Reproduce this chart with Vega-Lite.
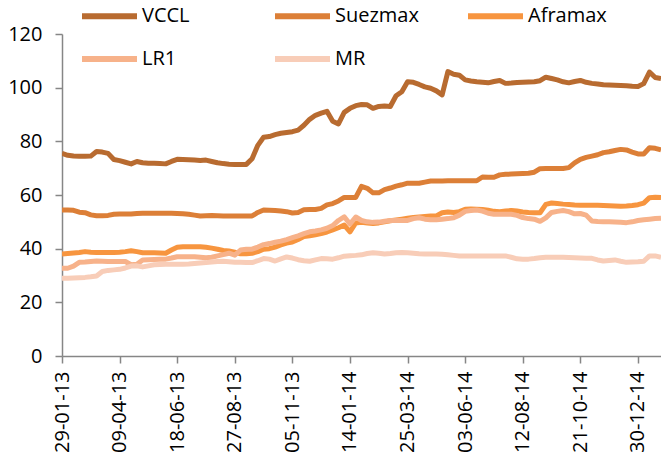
{
"$schema": "https://vega.github.io/schema/vega-lite/v6.json",
"width": 599, "height": 322,
"autosize": {"type": "none"},
"padding": {"left": 62, "top": 34, "right": 0, "bottom": 99},
"background": "white",
"config": {"view": {"stroke": null}, "font": "Open Sans"},
"data": {"values": [
{"date":"2013-01-29","VCCL":75.5,"Suezmax":54.4,"Aframax":38,"LR1":32.7,"MR":29},
{"date":"2013-02-05","VCCL":74.8,"Suezmax":54.4,"Aframax":38.2,"LR1":32.7,"MR":29},
{"date":"2013-02-12","VCCL":74.5,"Suezmax":54.3,"Aframax":38.4,"LR1":33.5,"MR":29.1},
{"date":"2013-02-19","VCCL":74.4,"Suezmax":53.6,"Aframax":38.6,"LR1":34.9,"MR":29.2},
{"date":"2013-02-26","VCCL":74.4,"Suezmax":53.4,"Aframax":38.9,"LR1":35,"MR":29.3},
{"date":"2013-03-05","VCCL":74.5,"Suezmax":52.6,"Aframax":38.7,"LR1":35.2,"MR":29.5},
{"date":"2013-03-12","VCCL":76.2,"Suezmax":52.3,"Aframax":38.6,"LR1":35.4,"MR":29.8},
{"date":"2013-03-19","VCCL":76,"Suezmax":52.3,"Aframax":38.6,"LR1":35.3,"MR":31.5},
{"date":"2013-03-26","VCCL":75.5,"Suezmax":52.4,"Aframax":38.6,"LR1":35.2,"MR":31.9},
{"date":"2013-04-02","VCCL":73.2,"Suezmax":52.8,"Aframax":38.6,"LR1":35.2,"MR":32.1},
{"date":"2013-04-09","VCCL":72.8,"Suezmax":52.9,"Aframax":38.7,"LR1":35.2,"MR":32.3},
{"date":"2013-04-16","VCCL":72.2,"Suezmax":52.9,"Aframax":38.9,"LR1":35.2,"MR":32.8},
{"date":"2013-04-23","VCCL":71.6,"Suezmax":52.9,"Aframax":39.2,"LR1":34,"MR":33.5},
{"date":"2013-04-30","VCCL":72.5,"Suezmax":53.1,"Aframax":38.9,"LR1":34.2,"MR":33.6},
{"date":"2013-05-07","VCCL":72,"Suezmax":53.2,"Aframax":38.5,"LR1":35.8,"MR":33.2},
{"date":"2013-05-14","VCCL":71.8,"Suezmax":53.2,"Aframax":38.5,"LR1":35.9,"MR":33.6},
{"date":"2013-05-21","VCCL":71.8,"Suezmax":53.2,"Aframax":38.5,"LR1":36,"MR":34},
{"date":"2013-05-28","VCCL":71.7,"Suezmax":53.2,"Aframax":38.4,"LR1":36.1,"MR":34.1},
{"date":"2013-06-04","VCCL":71.6,"Suezmax":53.2,"Aframax":38.3,"LR1":36.1,"MR":34.2},
{"date":"2013-06-11","VCCL":72.5,"Suezmax":53.2,"Aframax":39.5,"LR1":36.5,"MR":34.2},
{"date":"2013-06-18","VCCL":73.3,"Suezmax":53.1,"Aframax":40.5,"LR1":37,"MR":34.2},
{"date":"2013-06-25","VCCL":73.2,"Suezmax":53,"Aframax":40.7,"LR1":37,"MR":34.2},
{"date":"2013-07-02","VCCL":73.1,"Suezmax":52.8,"Aframax":40.7,"LR1":37,"MR":34.3},
{"date":"2013-07-09","VCCL":73,"Suezmax":52.5,"Aframax":40.7,"LR1":37,"MR":34.5},
{"date":"2013-07-16","VCCL":72.9,"Suezmax":52.2,"Aframax":40.7,"LR1":36.8,"MR":34.7},
{"date":"2013-07-23","VCCL":73,"Suezmax":52.3,"Aframax":40.5,"LR1":36.6,"MR":34.8},
{"date":"2013-07-30","VCCL":72.5,"Suezmax":52.4,"Aframax":40.2,"LR1":36.8,"MR":35},
{"date":"2013-08-06","VCCL":72,"Suezmax":52.3,"Aframax":39.8,"LR1":37.3,"MR":35.2},
{"date":"2013-08-13","VCCL":71.7,"Suezmax":52.2,"Aframax":39.3,"LR1":37.8,"MR":35.3},
{"date":"2013-08-20","VCCL":71.5,"Suezmax":52.2,"Aframax":39.1,"LR1":38.3,"MR":35.1},
{"date":"2013-08-27","VCCL":71.4,"Suezmax":52.2,"Aframax":38.7,"LR1":37.6,"MR":34.9},
{"date":"2013-09-03","VCCL":71.4,"Suezmax":52.2,"Aframax":38.1,"LR1":39.5,"MR":34.9},
{"date":"2013-09-10","VCCL":71.4,"Suezmax":52.2,"Aframax":38.1,"LR1":39.8,"MR":34.8},
{"date":"2013-09-17","VCCL":73.5,"Suezmax":52.2,"Aframax":38.3,"LR1":39.8,"MR":34.8},
{"date":"2013-09-24","VCCL":78.5,"Suezmax":53.5,"Aframax":38.9,"LR1":40.6,"MR":35.5},
{"date":"2013-10-01","VCCL":81.5,"Suezmax":54.4,"Aframax":39.8,"LR1":41.5,"MR":36.3},
{"date":"2013-10-08","VCCL":81.8,"Suezmax":54.3,"Aframax":40,"LR1":41.9,"MR":36.1},
{"date":"2013-10-15","VCCL":82.5,"Suezmax":54.2,"Aframax":40.6,"LR1":42.4,"MR":35.4},
{"date":"2013-10-22","VCCL":83,"Suezmax":54,"Aframax":41.4,"LR1":42.8,"MR":36.2},
{"date":"2013-10-29","VCCL":83.3,"Suezmax":53.8,"Aframax":42.1,"LR1":43.4,"MR":36.9},
{"date":"2013-11-05","VCCL":83.6,"Suezmax":53.3,"Aframax":42.5,"LR1":44.1,"MR":36.5},
{"date":"2013-11-12","VCCL":84.2,"Suezmax":53.5,"Aframax":43.4,"LR1":44.8,"MR":35.9},
{"date":"2013-11-19","VCCL":86,"Suezmax":54.5,"Aframax":44.5,"LR1":45.6,"MR":35.5},
{"date":"2013-11-26","VCCL":88.2,"Suezmax":54.6,"Aframax":44.8,"LR1":46.3,"MR":35.3},
{"date":"2013-12-03","VCCL":89.7,"Suezmax":54.6,"Aframax":45.2,"LR1":46.6,"MR":35.8},
{"date":"2013-12-10","VCCL":90.5,"Suezmax":55,"Aframax":45.6,"LR1":47,"MR":36.3},
{"date":"2013-12-17","VCCL":91.2,"Suezmax":56.3,"Aframax":46.2,"LR1":47.6,"MR":36.2},
{"date":"2013-12-24","VCCL":87.5,"Suezmax":56.8,"Aframax":47,"LR1":48.6,"MR":36.1},
{"date":"2013-12-31","VCCL":86.5,"Suezmax":57.8,"Aframax":47.8,"LR1":50.5,"MR":36.6},
{"date":"2014-01-07","VCCL":90.8,"Suezmax":59.1,"Aframax":48.8,"LR1":51.9,"MR":37.2},
{"date":"2014-01-14","VCCL":92.3,"Suezmax":59.1,"Aframax":46.3,"LR1":49.2,"MR":37.4},
{"date":"2014-01-21","VCCL":93.3,"Suezmax":59.1,"Aframax":49.6,"LR1":51.8,"MR":37.5},
{"date":"2014-01-28","VCCL":93.7,"Suezmax":63.2,"Aframax":49.8,"LR1":50.5,"MR":37.7},
{"date":"2014-02-04","VCCL":93.6,"Suezmax":62.5,"Aframax":49.6,"LR1":50,"MR":38.2},
{"date":"2014-02-11","VCCL":92.3,"Suezmax":60.8,"Aframax":49.4,"LR1":49.8,"MR":38.5},
{"date":"2014-02-18","VCCL":93,"Suezmax":60.8,"Aframax":49.6,"LR1":49.9,"MR":38.3},
{"date":"2014-02-25","VCCL":93.2,"Suezmax":62,"Aframax":50,"LR1":50.2,"MR":38},
{"date":"2014-03-04","VCCL":93,"Suezmax":62.6,"Aframax":50.4,"LR1":50.5,"MR":38.2},
{"date":"2014-03-11","VCCL":97,"Suezmax":63.3,"Aframax":50.7,"LR1":50.5,"MR":38.5},
{"date":"2014-03-18","VCCL":98.5,"Suezmax":63.8,"Aframax":51,"LR1":50.5,"MR":38.6},
{"date":"2014-03-25","VCCL":102.2,"Suezmax":64.4,"Aframax":51.3,"LR1":50.5,"MR":38.5},
{"date":"2014-04-01","VCCL":102,"Suezmax":64.4,"Aframax":51.6,"LR1":51.2,"MR":38.3},
{"date":"2014-04-08","VCCL":101.2,"Suezmax":64.4,"Aframax":51.8,"LR1":51.5,"MR":38.1},
{"date":"2014-04-15","VCCL":100.3,"Suezmax":64.8,"Aframax":52,"LR1":51,"MR":38},
{"date":"2014-04-22","VCCL":99.8,"Suezmax":65.2,"Aframax":52.2,"LR1":50.8,"MR":38},
{"date":"2014-04-29","VCCL":98.8,"Suezmax":65.2,"Aframax":52.2,"LR1":50.8,"MR":38},
{"date":"2014-05-06","VCCL":97.3,"Suezmax":65.2,"Aframax":53.4,"LR1":51,"MR":37.9},
{"date":"2014-05-13","VCCL":106,"Suezmax":65.3,"Aframax":53.7,"LR1":51.2,"MR":37.7},
{"date":"2014-05-20","VCCL":105,"Suezmax":65.3,"Aframax":53.5,"LR1":51.5,"MR":37.5},
{"date":"2014-05-27","VCCL":104.6,"Suezmax":65.3,"Aframax":53.8,"LR1":52.5,"MR":37.3},
{"date":"2014-06-03","VCCL":102.9,"Suezmax":65.3,"Aframax":54.7,"LR1":53.9,"MR":37.3},
{"date":"2014-06-10","VCCL":102.5,"Suezmax":65.3,"Aframax":54.8,"LR1":54.2,"MR":37.3},
{"date":"2014-06-17","VCCL":102.2,"Suezmax":65.3,"Aframax":54.7,"LR1":54.4,"MR":37.3},
{"date":"2014-06-24","VCCL":102,"Suezmax":66.7,"Aframax":54.6,"LR1":54,"MR":37.3},
{"date":"2014-07-01","VCCL":101.8,"Suezmax":66.6,"Aframax":54.3,"LR1":53.2,"MR":37.3},
{"date":"2014-07-08","VCCL":102.3,"Suezmax":66.6,"Aframax":53.9,"LR1":52.8,"MR":37.3},
{"date":"2014-07-15","VCCL":102.7,"Suezmax":67.5,"Aframax":53.8,"LR1":52.8,"MR":37.3},
{"date":"2014-07-22","VCCL":101.6,"Suezmax":67.7,"Aframax":54,"LR1":52.8,"MR":37.3},
{"date":"2014-07-29","VCCL":101.7,"Suezmax":67.8,"Aframax":54.2,"LR1":52.8,"MR":36.8},
{"date":"2014-08-05","VCCL":101.9,"Suezmax":67.9,"Aframax":54,"LR1":52.4,"MR":36.2},
{"date":"2014-08-12","VCCL":102,"Suezmax":68,"Aframax":53.7,"LR1":51.6,"MR":36.1},
{"date":"2014-08-19","VCCL":102.1,"Suezmax":68.1,"Aframax":53.5,"LR1":51.2,"MR":36.1},
{"date":"2014-08-26","VCCL":102.2,"Suezmax":68.5,"Aframax":53.4,"LR1":51,"MR":36.3},
{"date":"2014-09-02","VCCL":102.6,"Suezmax":69.8,"Aframax":53.4,"LR1":50.2,"MR":36.6},
{"date":"2014-09-09","VCCL":103.9,"Suezmax":69.9,"Aframax":56.5,"LR1":51.5,"MR":36.8},
{"date":"2014-09-16","VCCL":103.4,"Suezmax":69.9,"Aframax":57,"LR1":53.5,"MR":36.8},
{"date":"2014-09-23","VCCL":102.9,"Suezmax":69.9,"Aframax":56.8,"LR1":53.9,"MR":36.8},
{"date":"2014-09-30","VCCL":102.2,"Suezmax":69.9,"Aframax":56.6,"LR1":54.2,"MR":36.8},
{"date":"2014-10-07","VCCL":101.8,"Suezmax":70.2,"Aframax":56.5,"LR1":53.8,"MR":36.7},
{"date":"2014-10-14","VCCL":102.3,"Suezmax":72,"Aframax":56.3,"LR1":53,"MR":36.6},
{"date":"2014-10-21","VCCL":102.7,"Suezmax":73.3,"Aframax":56.2,"LR1":53.1,"MR":36.5},
{"date":"2014-10-28","VCCL":102,"Suezmax":74,"Aframax":56.2,"LR1":52.5,"MR":36.4},
{"date":"2014-11-04","VCCL":101.6,"Suezmax":74.5,"Aframax":56.2,"LR1":50.3,"MR":36.4},
{"date":"2014-11-11","VCCL":101.4,"Suezmax":75,"Aframax":56.2,"LR1":50.1,"MR":35.8},
{"date":"2014-11-18","VCCL":101.1,"Suezmax":75.8,"Aframax":56.1,"LR1":50,"MR":35.4},
{"date":"2014-11-25","VCCL":101,"Suezmax":76.1,"Aframax":56,"LR1":50,"MR":35.6},
{"date":"2014-12-02","VCCL":100.9,"Suezmax":76.6,"Aframax":55.9,"LR1":49.9,"MR":35.8},
{"date":"2014-12-09","VCCL":100.8,"Suezmax":77,"Aframax":55.8,"LR1":49.8,"MR":35.3},
{"date":"2014-12-16","VCCL":100.7,"Suezmax":76.8,"Aframax":55.9,"LR1":49.7,"MR":34.9},
{"date":"2014-12-23","VCCL":100.5,"Suezmax":76,"Aframax":56.1,"LR1":50,"MR":35},
{"date":"2014-12-30","VCCL":100.4,"Suezmax":75.3,"Aframax":56.4,"LR1":50.5,"MR":35.1},
{"date":"2015-01-06","VCCL":101.5,"Suezmax":75.3,"Aframax":57,"LR1":50.8,"MR":35.3},
{"date":"2015-01-13","VCCL":105.8,"Suezmax":77.6,"Aframax":59,"LR1":51,"MR":37.3},
{"date":"2015-01-20","VCCL":103.8,"Suezmax":77.4,"Aframax":59.2,"LR1":51.2,"MR":37.3},
{"date":"2015-01-27","VCCL":103.4,"Suezmax":76.8,"Aframax":59.1,"LR1":51.3,"MR":36.8}
]},
"transform": [{"fold": ["VCCL","Suezmax","Aframax","LR1","MR"], "as": ["series","value"]}],
"mark": {"type": "line", "strokeWidth": 5, "strokeJoin": "round", "clip": true},
"encoding": {
  "x": {"field": "date", "type": "temporal",
    "scale": {"type": "utc", "domain": [{"year":2013,"month":1,"date":29,"utc":true},{"year":2015,"month":1,"date":27,"utc":true}]},
    "axis": {"title": null, "grid": false,
      "values": [{"year":2013,"month":1,"date":29,"utc":true},{"year":2013,"month":4,"date":9,"utc":true},{"year":2013,"month":6,"date":18,"utc":true},{"year":2013,"month":8,"date":27,"utc":true},{"year":2013,"month":11,"date":5,"utc":true},{"year":2014,"month":1,"date":14,"utc":true},{"year":2014,"month":3,"date":25,"utc":true},{"year":2014,"month":6,"date":3,"utc":true},{"year":2014,"month":8,"date":12,"utc":true},{"year":2014,"month":10,"date":21,"utc":true},{"year":2014,"month":12,"date":30,"utc":true}],
      "labelExpr": "utcFormat(datum.value, '%d-%m-%y')",
      "labelAngle": -90, "labelAlign": "right", "labelBaseline": "middle",
      "labelFontSize": 20, "labelColor": "#000000", "labelPadding": 8,
      "labelOverlap": false, "labelFlush": false, "labelBound": false,
      "domainColor": "#868686", "domainWidth": 1.5, "tickColor": "#868686", "tickWidth": 1.5, "tickSize": 7}},
  "y": {"field": "value", "type": "quantitative",
    "scale": {"domain": [0, 120], "nice": false, "zero": true},
    "axis": {"title": null, "grid": false, "values": [0,20,40,60,80,100,120],
      "labelFontSize": 20, "labelColor": "#000000", "labelPadding": 13,
      "domainColor": "#868686", "domainWidth": 1.5, "tickColor": "#868686", "tickWidth": 1.5, "tickSize": 7}},
  "color": {"field": "series", "type": "nominal",
    "scale": {"domain": ["VCCL","Suezmax","Aframax","LR1","MR"], "range": ["#B86B30","#DC7F37","#F7953F","#F7B28A","#F8CDB8"]},
    "legend": {"title": null, "orient": "none", "legendX": 17, "legendY": -48.5, "direction": "horizontal", "columns": 3,
      "symbolType": "stroke", "symbolSize": 3025, "symbolStrokeWidth": 6, "labelFontSize": 20, "labelColor": "#000000",
      "labelOffset": 2, "columnPadding": 37, "rowPadding": -10, "gridAlign": "all", "padding": 0}}
}
}
